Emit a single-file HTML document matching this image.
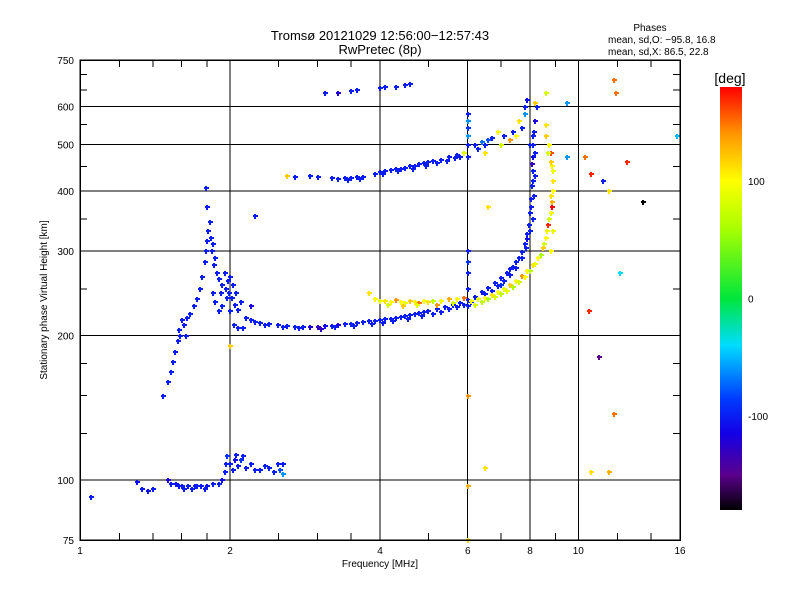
<!DOCTYPE html>
<html><head><meta charset="utf-8"><style>
body{margin:0;background:#fff;}
svg text{font-family:"Liberation Sans",sans-serif;}
</style></head><body>
<svg id="c" width="800" height="600" viewBox="0 0 800 600" shape-rendering="crispEdges"></svg>
<script>
const xTicks=[1,2,4,6,8,10,16];
const xMinor=[1.2,1.4,1.6,1.8,2.5,3,3.5,5,7,9,12,14];
const yTicks=[75,100,200,300,400,500,600,750];
const yMinor=[125,150,175,250,350,450,550,650,700];
const cbTicks=[100,0,-100];
const traceE=[[1.05,92,-100],[1.3,99,-110],[1.33,96,-100],[1.37,95,-105],[1.4,96,-100],[1.5,100,-120],[1.52,98,-100],[1.56,98,-105],[1.6,97,-100],[1.65,97,-100],[1.7,97,-100],[1.75,97,-100],[1.8,97,-105],[1.85,98,-100],[1.9,98,-100],[1.93,100,-110],[1.95,104,-100],[1.96,108,-100],[1.97,112,-90],[2.0,108,-100],[2.03,105,-100],[2.05,110,-110],[2.08,107,-100],[2.1,110,-90],[2.15,106,-100],[2.2,108,-100],[2.3,105,-100],[2.35,107,-100],[2.4,106,-100],[2.5,108,-100],[2.52,105,-80],[2.55,108,-100],[2.55,103,-60],[1.58,97,-100],[1.62,96,-100],[1.68,96,-100],[1.72,97,-100],[1.78,96,-100],[2.06,113,-100],[2.12,112,-100],[2.25,105,-100],[2.45,104,-100]];
const traceSpur=[[1.47,150,-100],[1.5,160,-100],[1.52,168,-100],[1.54,176,-100],[1.55,185,-100],[1.57,195,-100],[1.59,200,-100],[1.62,210,-100],[1.64,218,-100],[1.66,222,-100],[1.69,230,-100],[1.72,238,-100],[1.74,250,-100],[1.76,265,-100],[1.78,285,-100],[1.79,300,-100],[1.8,315,-100],[1.81,330,-100],[1.82,345,-100],[1.8,370,-100],[1.79,405,-100],[1.84,300,-100],[1.86,280,-100],[1.88,270,-100],[1.9,262,-100],[1.93,255,-100],[1.96,250,-100],[1.99,245,-100],[2.02,240,-100],[2.05,232,-100],[2.08,226,-100],[1.85,245,-100],[1.87,235,-100],[1.9,225,-100],[1.93,230,-100],[2.0,225,-100],[2.04,210,-100],[2.08,207,-100],[2.12,207,-100],[2.2,230,-120],[2.25,355,-100],[2.0,190,120],[1.83,320,-100],[1.85,310,-100],[1.87,290,-100],[1.95,270,-100],[1.98,260,-100],[2.0,265,-100],[2.03,255,-100],[2.06,245,-100],[2.1,235,-100],[1.97,240,-100],[1.92,245,-100],[1.58,205,-100],[1.6,215,-100],[1.63,200,-100]];
const traceO=[[2.15,218,-100],[2.2,215,-100],[2.25,213,-100],[2.3,212,-100],[2.4,211,-100],[2.5,210,-100],[2.6,209,-100],[2.7,208,-100],[2.8,208,-100],[2.9,208,-120],[3.0,208,-130],[3.1,209,-110],[3.2,209,-100],[3.3,210,-120],[3.4,211,-100],[3.5,211,-100],[3.6,212,-100],[3.7,213,-100],[3.8,214,-100],[3.9,214,-100],[4.0,215,-100],[4.1,216,-100],[4.2,217,-100],[4.3,218,-100],[4.4,219,-100],[4.5,220,-100],[4.6,221,-100],[4.7,222,-100],[4.8,223,-100],[4.9,224,-100],[5.0,225,-100],[5.2,227,-100],[5.4,229,-100],[5.6,232,-100],[5.8,234,-100],[6.0,237,-100],[6.2,241,-100],[6.4,246,-100],[6.6,251,-100],[6.8,257,-100],[7.0,263,-100],[7.2,270,-100],[7.4,278,-100],[7.6,290,-100],[7.7,298,-100],[7.8,310,-100],[7.9,325,-100],[7.95,340,-100],[8.0,360,-100],[8.05,385,-100],[8.08,410,-100],[8.1,440,-100],[8.1,470,-110],[8.12,500,-100],[8.15,530,-100],[8.2,560,-120],[8.25,600,-100],[7.0,255,-90],[7.3,275,-100],[7.5,285,-100],[7.9,318,-110],[8.05,370,-100],[8.1,420,-100],[8.08,455,-130],[2.35,210,-100],[2.55,208,-100],[2.75,207,-100],[3.05,206,-130],[3.25,208,-100],[3.55,209,-100],[3.85,211,-100],[4.05,212,-100],[4.25,214,-100],[4.55,217,-100],[4.85,220,-100],[5.1,222,-100],[5.3,224,-100],[5.5,227,-100],[5.7,229,-100],[5.9,231,-100],[6.1,235,-100],[6.3,238,-100],[6.5,244,-100],[6.7,248,-100],[6.9,254,-100],[7.1,260,-100],[7.3,267,-100],[7.5,276,-100],[7.7,290,-100],[7.85,305,-100],[8.0,330,-100],[8.1,350,-100],[8.15,390,-100],[8.2,430,-100],[8.2,480,-100],[8.0,500,-100],[8.1,520,-100]];
const traceX=[[3.8,245,110],[3.9,238,100],[4.0,236,90],[4.1,236,110],[4.2,235,100],[4.3,237,140],[4.4,235,100],[4.5,234,90],[4.6,236,120],[4.7,235,100],[4.8,234,150],[4.9,236,100],[5.0,235,110],[5.1,236,70],[5.3,236,100],[5.5,238,130],[5.7,238,100],[5.9,240,150],[6.1,236,100],[6.3,238,90],[6.5,240,100],[6.7,243,110],[6.9,246,100],[7.1,250,90],[7.3,255,120],[7.5,260,100],[7.7,266,140],[7.9,272,100],[8.1,280,110],[8.3,290,100],[8.5,305,120],[8.6,320,100],[8.7,340,150],[8.8,360,100],[8.85,380,130],[8.9,400,100],[8.9,420,110],[8.85,450,100],[8.8,480,160],[8.75,500,100],[8.6,520,120],[8.7,340,170],[8.8,300,100],[8.9,330,90],[8.85,370,180],[6.2,232,80],[6.4,235,70],[6.6,238,60],[6.8,241,80],[7.0,244,70],[7.2,248,90],[7.4,253,60],[7.6,258,80],[7.8,265,100],[8.0,272,70],[8.2,282,90],[8.4,295,60],[8.55,310,80],[8.65,330,100],[8.75,350,80],[8.8,390,110],[8.9,440,90],[8.8,460,120],[8.7,480,80],[8.6,550,110],[4.15,232,80],[4.45,230,120],[4.75,231,90],[5.2,232,140],[5.6,234,80]];
const traceUpper=[[2.6,430,120],[2.7,428,-100],[2.9,430,-100],[3.0,428,-100],[3.2,425,-100],[3.3,424,-100],[3.4,425,-100],[3.5,426,-100],[3.6,428,-100],[3.7,428,-100],[3.9,435,-100],[4.0,438,-100],[4.1,440,-100],[4.2,442,-100],[4.3,444,-100],[4.4,445,-100],[4.5,447,-100],[4.6,450,-100],[4.7,452,-100],[4.8,455,-100],[4.9,457,-100],[5.0,460,-100],[5.1,462,-100],[5.3,465,-100],[5.5,470,-100],[5.7,475,-100],[5.9,480,90],[3.1,640,-100],[3.3,640,-120],[3.5,645,-100],[3.6,648,-100],[4.0,655,-100],[4.1,658,-100],[4.3,660,-100],[4.5,665,-100],[4.6,668,-100],[3.45,422,-100],[3.65,424,-100],[4.05,434,-100],[4.35,440,-100],[4.65,445,-100],[4.95,452,-100],[5.2,458,-100],[5.45,462,-100],[5.65,468,-100],[5.8,472,-100]];
const traceMisc=[[6.0,580,-100],[6.0,540,-90],[6.0,520,-60],[6.0,470,-100],[6.0,300,-100],[6.0,285,-90],[6.0,250,-100],[6.2,500,-100],[6.4,505,-70],[6.5,500,-100],[6.6,510,-80],[6.9,530,100],[7.1,520,-100],[7.3,510,140],[7.5,520,100],[7.7,540,-100],[7.8,600,-100],[7.9,620,-110],[8.2,610,120],[8.6,640,80],[9.5,610,-60],[9.5,470,-60],[10.3,470,150],[10.6,435,170],[11.2,420,-100],[11.8,680,150],[11.9,640,150],[12.5,460,170],[13.5,380,-180],[15.8,520,-50],[11.5,400,110],[12.1,270,-40],[10.5,225,170],[11.0,180,-150],[11.8,137,150],[11.5,104,130],[10.6,104,110],[6.5,106,110],[6.0,150,140],[6.0,97,130],[6.5,480,110],[6.6,370,110],[6.0,75,110],[6.0,560,-60],[6.0,500,-100],[6.0,270,-100],[6.0,230,-100],[6.3,490,-100],[6.7,515,-100],[7.0,500,80],[7.4,530,-100],[7.6,560,110],[7.8,580,-60]];
const traces=[traceE,traceSpur,traceO,traceX,traceUpper,traceMisc];
const traceNames=['e-trace','f-spur','o-trace','x-trace','upper-trace','scattered-echo'];

const L=80,R=680,T=60,B=540;
const xs=f=>L+(R-L)*Math.log(f)/Math.log(16);
const ys=h=>B-(B-T)*Math.log10(h/75);
const cbTop=87,cbBot=510;
const cy=v=>cbBot-(v+180)/360*(cbBot-cbTop);
const stops=[[-180,[0,0,0]],[-150,[90,0,140]],[-115,[20,0,230]],[-85,[0,60,255]],[-40,[0,220,255]],[0,[0,230,60]],[60,[170,255,0]],[100,[255,255,0]],[140,[255,150,0]],[180,[255,0,0]]];
function col(v){for(let i=1;i<stops.length;i++){if(v<=stops[i][0]){const a=stops[i-1],b=stops[i],t=(v-a[0])/(b[0]-a[0]);return 'rgb('+a[1].map((c,k)=>Math.round(c+(b[1][k]-c)*t)).join(',')+')';}}return 'rgb(255,0,0)';}
const svg=document.getElementById('c');const NS='http://www.w3.org/2000/svg';
function el(t,a,p){const e=document.createElementNS(NS,t);for(const k in a)e.setAttribute(k,a[k]);(p||svg).appendChild(e);return e;}
function txt(x,y,s,sz,anc){const e=el('text',{x:x,y:y,'font-size':sz,'text-anchor':anc||'middle',fill:'#000'});e.textContent=s;return e;}
xTicks.forEach(f=>{if(f>1&&f<16){const g=el('line',{x1:xs(f),x2:xs(f),y1:T,y2:B,stroke:'#000','stroke-width':1});

}
const t=txt(xs(f),554,String(f),10);

});
yTicks.forEach(h=>{if(h>75&&h<750){const g=el('line',{x1:L,x2:R,y1:ys(h),y2:ys(h),stroke:'#000','stroke-width':1});

}
const t=txt(74,ys(h)+4,String(h),10,'end');

});
xMinor.forEach(f=>{el('line',{x1:xs(f),x2:xs(f),y1:T,y2:T+7,stroke:'#000'});el('line',{x1:xs(f),x2:xs(f),y1:B,y2:B-7,stroke:'#000'});});
yMinor.forEach(h=>{el('line',{x1:L,x2:L+7,y1:ys(h),y2:ys(h),stroke:'#000'});el('line',{x1:R,x2:R-7,y1:ys(h),y2:ys(h),stroke:'#000'});});
traces.forEach((tr,i)=>{const g=el('g',{});


tr.forEach(p=>{const x=Math.round(xs(p[0])),y=Math.round(ys(p[1])),c=col(p[2]);
el('rect',{x:x-2,y:y-1,width:5,height:2,fill:c},g);el('rect',{x:x-1,y:y-2,width:2,height:5,fill:c},g);});});
const fr=el('rect',{x:L,y:T,width:R-L,height:B-T,fill:'none',stroke:'#000','stroke-width':1.5});


const defs=el('defs',{});const lg=el('linearGradient',{id:'cb',x1:0,y1:1,x2:0,y2:0},defs);
stops.forEach(s=>el('stop',{offset:(s[0]+180)/360,'stop-color':col(s[0])},lg));
const cb=el('rect',{x:720,y:cbTop,width:22,height:cbBot-cbTop,fill:'url(#cb)'});


cbTicks.forEach(v=>{const t=txt(748,cy(v)+4,String(v),10,'start');

});
</script>
<svg width="800" height="600" style="position:absolute;left:0;top:0">
<text x="380" y="40" font-size="13" text-anchor="middle" font-family="Liberation Sans">Tromsø 20121029 12:56:00−12:57:43</text>
<text x="380" y="54" font-size="13" text-anchor="middle" font-family="Liberation Sans">RwPretec (8p)</text>
<text x="650" y="31" font-size="10" text-anchor="middle" font-family="Liberation Sans">Phases</text>
<text x="608" y="43" font-size="10" font-family="Liberation Sans">mean, sd,O: −95.8, 16.8</text>
<text x="608" y="55" font-size="10" font-family="Liberation Sans">mean, sd,X:  86.5, 22.8</text>
<text x="730" y="83" font-size="14" text-anchor="middle" font-family="Liberation Sans">[deg]</text>
<text x="380" y="567" font-size="10" text-anchor="middle" font-family="Liberation Sans">Frequency [MHz]</text>
<text x="47" y="300" font-size="10" text-anchor="middle" font-family="Liberation Sans" transform="rotate(-90 47 300)">Stationary phase Virtual Height [km]</text>
</svg>
</body></html>
